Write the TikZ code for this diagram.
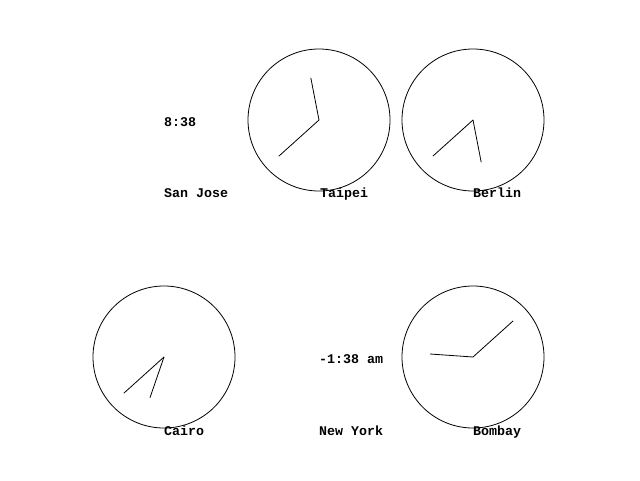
\documentclass[tikz,border=0pt]{standalone}
\usepackage{fontspec}
\setmonofont{Liberation Mono}
\usepackage{tikz}
\usetikzlibrary{positioning}

\begin{document}
\begin{tikzpicture}[x=1pt, y=-1pt,
    dial/.style={circle, draw, line width=0.8pt, minimum size=142pt, inner sep=0pt},
    hand/.style={line width=0.8pt},
    city/.style={anchor=base west, inner sep=0pt, font=\fontsize{13.3}{16}\selectfont\ttfamily\bfseries},
    readout/.style={city}
]
\useasboundingbox[fill=white] (0,0) rectangle (640,480);
% top row
\node[readout] (sanjosetime) at (164, 126) {8:38};
\node[dial] (taipei) at (319, 120) {};
\node[dial] (berlin) at (473, 120) {};
\node[city] (sanjoselbl) at (164, 197) {San Jose};
\node[city] (taipeilbl) at (320, 197) {Taipei};
\node[city] (berlinlbl) at (473, 197) {Berlin};
% bottom row
\node[dial] (cairo) at (164, 357) {};
\node[readout] (newyorktime) at (319, 363) {-1:38 am};
\node[dial] (bombay) at (473, 357) {};
\node[city] (cairolbl) at (164, 435) {Cairo};
\node[city] (newyorklbl) at (319, 435) {New York};
\node[city] (bombaylbl) at (473, 435) {Bombay};
% hands: hour then minute
\draw[hand] (taipei.center) -- ++(259:43);
\draw[hand] (taipei.center) -- ++(138:54);
\draw[hand] (berlin.center) -- ++(79:43);
\draw[hand] (berlin.center) -- ++(138:54);
\draw[hand] (cairo.center) -- ++(109:43);
\draw[hand] (cairo.center) -- ++(138:54);
\draw[hand] (bombay.center) -- ++(184:43);
\draw[hand] (bombay.center) -- ++(-42:54);
\end{tikzpicture}
\end{document}
